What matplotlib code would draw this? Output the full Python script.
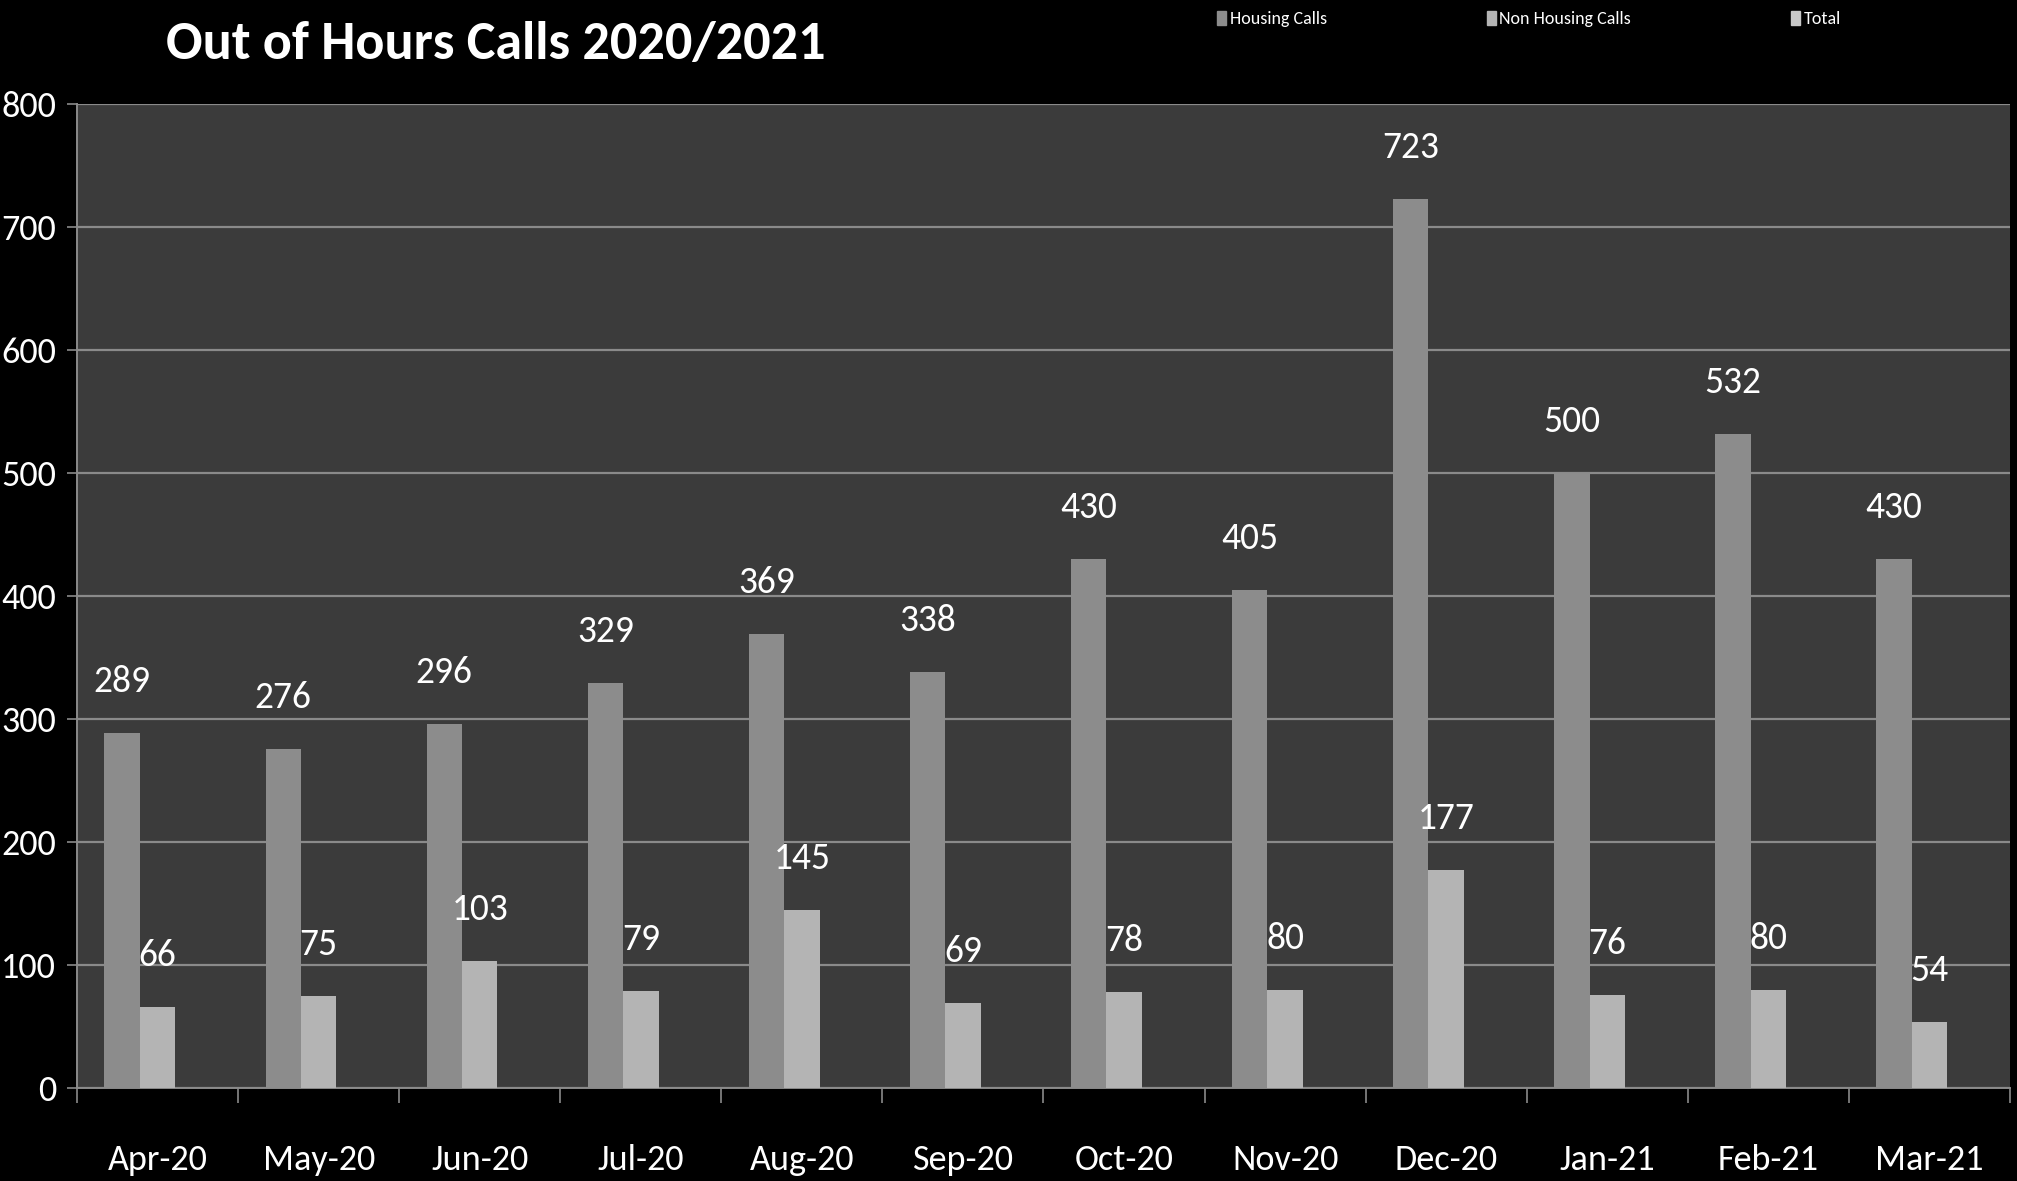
import numpy as np
import matplotlib.pyplot as plt
from matplotlib.patches import Patch

# chart data
months = ['Apr-20', 'May-20', 'Jun-20', 'Jul-20', 'Aug-20', 'Sep-20',
          'Oct-20', 'Nov-20', 'Dec-20', 'Jan-21', 'Feb-21', 'Mar-21']
housing_calls = [289, 276, 296, 329, 369, 338, 430, 405, 723, 500, 532, 430]
non_housing_calls = [66, 75, 103, 79, 145, 69, 78, 80, 177, 76, 80, 54]
series_names = ['Housing Calls', 'Non Housing Calls', 'Total']
series_colors = ['#8c8c8c', '#b4b4b4', '#c8c8c8']

plt.rcParams['font.family'] = ['Carlito', 'Roboto Condensed', 'DejaVu Sans']

fig = plt.figure(figsize=(20.17, 11.81), dpi=100, facecolor='black')
ax = fig.add_axes([0.0382, 0.0787, 0.9583, 0.8333])
ax.set_facecolor('#3b3b3b')

x = np.arange(len(months))
w = 0.22

# the third slot (Total) is left empty, as in the original
b1 = ax.bar(x - w, housing_calls, w, color=series_colors[0], zorder=3)
b2 = ax.bar(x, non_housing_calls, w, color=series_colors[1], zorder=3)

for bars, vals in ((b1, housing_calls), (b2, non_housing_calls)):
    for rect, v in zip(bars, vals):
        ax.annotate(str(v), (rect.get_x() + rect.get_width() / 2, v),
                    xytext=(0, 37), textcoords='offset points',
                    ha='center', va='center', color='white', fontsize=27)

ax.set_xlim(-0.5, len(months) - 0.5)
ax.set_ylim(0, 800)
ax.set_yticks(range(0, 801, 100))
ax.grid(axis='y', color='#8a8a8a', lw=1.6, zorder=1)

ax.set_xticks(x)
ax.set_xticklabels(months)
ax.set_xticks(np.arange(-0.5, len(months)), minor=True)
ax.tick_params(axis='x', which='major', length=0, pad=40, labelsize=26, labelcolor='white')
ax.tick_params(axis='x', which='minor', length=11, width=1.2, color='#8a8a8a')
ax.tick_params(axis='y', length=7, width=1.2, color='#8a8a8a', pad=8,
               labelsize=26, labelcolor='white')

for side in ('top', 'right'):
    ax.spines[side].set_visible(False)
for side in ('left', 'bottom'):
    ax.spines[side].set_color('#8a8a8a')
    ax.spines[side].set_linewidth(1.4)

fig.text(0.246, 0.962, 'Out of Hours Calls 2020/2021', color='white',
         fontsize=39, fontweight='bold', ha='center', va='center')

handles = [Patch(color=c) for c in series_colors]
fig.legend(handles, series_names, loc='center left', bbox_to_anchor=(0.599, 0.984),
           ncol=3, frameon=False, fontsize=13, labelcolor='white',
           handlelength=0.5, handleheight=0.8, handletextpad=0.2,
           columnspacing=8.85, borderpad=0)

fig.savefig('out.png', dpi=100, facecolor='black')
